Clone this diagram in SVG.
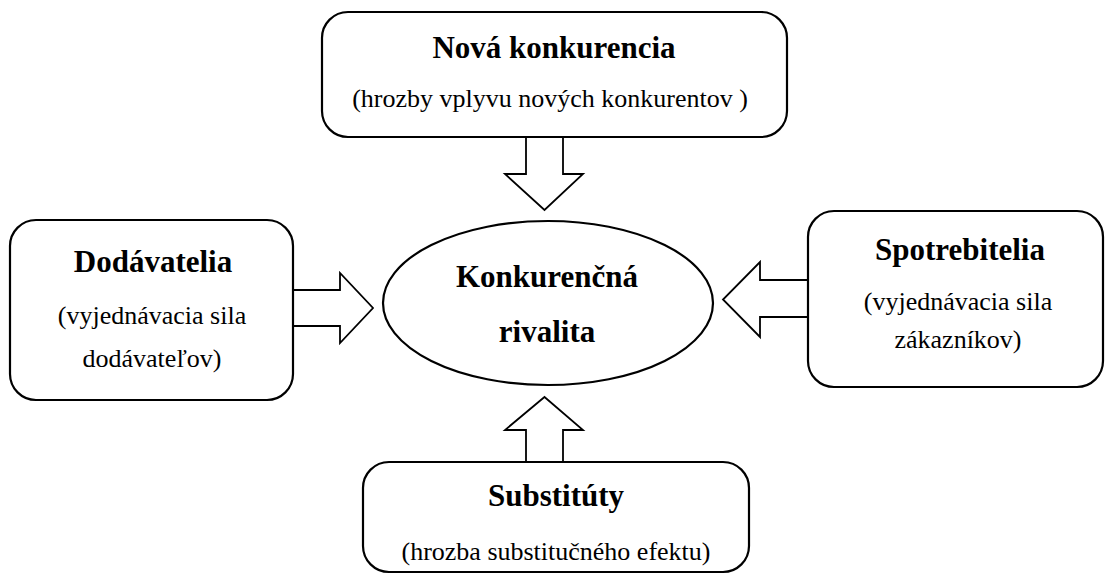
<svg xmlns="http://www.w3.org/2000/svg" width="1105" height="576" viewBox="0 0 1105 576">
<style>
.box{fill:#fff;stroke:#000;stroke-width:2.2}
.arr{fill:#fff;stroke:#000;stroke-width:1.8;stroke-linejoin:miter}
.t{font-family:'Liberation Serif','Times New Roman','Noto Serif','DejaVu Serif',serif;font-weight:bold;font-size:31px;text-anchor:middle;fill:#000}
.s{font-family:'Liberation Serif','Times New Roman','Noto Serif','DejaVu Serif',serif;font-size:26px;text-anchor:middle;fill:#000}
</style>
<rect width="1105" height="576" fill="#fff"/>
<g id="connectors">
<polygon class="arr" points="526,137 563,137 563,174 583,174 544.5,210 505,174 526,174"/>
<polygon class="arr" points="293,290 340,290 340,273 373,308 340,343 340,326 293,326"/>
<polygon class="arr" points="808,280 760,280 760,262 723,299.5 760,337 760,317 808,317"/>
<polygon class="arr" points="526,462 526,430 505,430 544.5,397 583,430 563,430 563,462"/>
</g>
<g id="nova">
<rect class="box" x="322" y="12" width="465" height="125" rx="26"/>
<text class="t" x="554" y="58">Nová konkurencia</text>
<text class="s" x="550" y="107">(hrozby vplyvu nových konkurentov )</text>
</g>
<g id="dodavatelia">
<rect class="box" x="10" y="220" width="283" height="180" rx="26"/>
<text class="t" x="153" y="272">Dodávatelia</text>
<text class="s" x="152" y="324">(vyjednávacia sila</text>
<text class="s" x="152" y="367">dodávateľov)</text>
</g>
<g id="spotrebitelia">
<rect class="box" x="808" y="211" width="295" height="176" rx="26"/>
<text class="t" x="960" y="260">Spotrebitelia</text>
<text class="s" x="958" y="310">(vyjednávacia sila</text>
<text class="s" x="958" y="348">zákazníkov)</text>
</g>
<g id="substituty">
<rect class="box" x="363" y="462" width="386" height="110" rx="26"/>
<text class="t" x="556" y="506">Substitúty</text>
<text class="s" x="556" y="560">(hrozba substitučného efektu)</text>
</g>
<g id="rivalita">
<ellipse class="box" cx="548" cy="303" rx="165" ry="82"/>
<text class="t" x="547" y="287">Konkurenčná</text>
<text class="t" x="547" y="342">rivalita</text>
</g>
</svg>
